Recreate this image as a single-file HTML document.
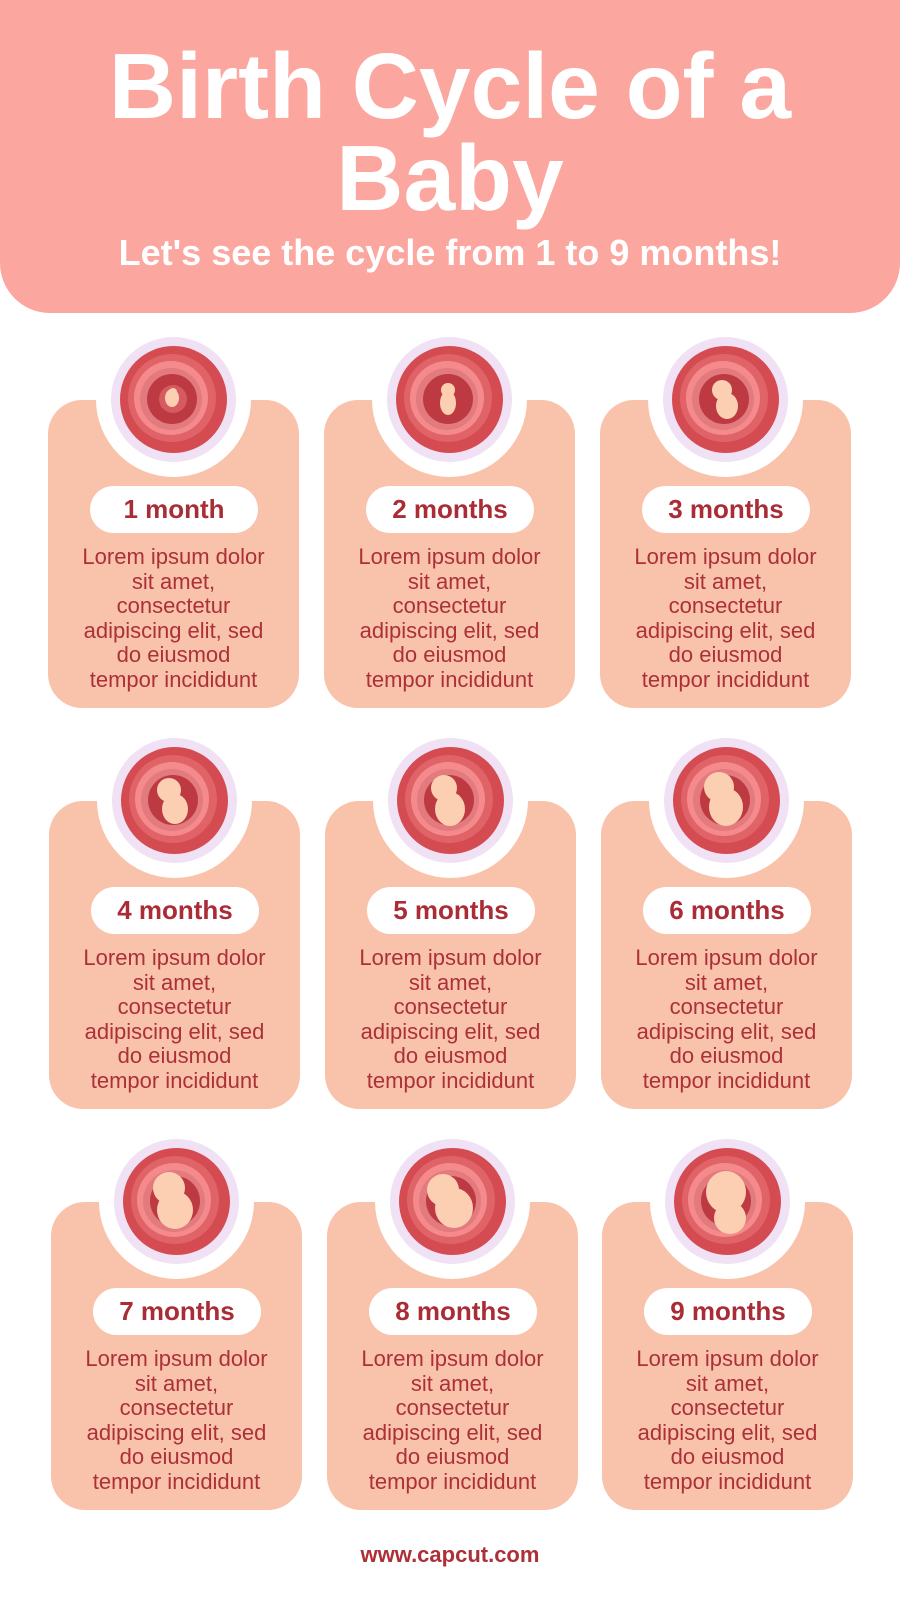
<!DOCTYPE html>
<html><head><meta charset="utf-8"><style>
*{margin:0;padding:0;box-sizing:border-box}
body{width:900px;height:1600px;background:#fff;position:relative;overflow:hidden;font-family:"Liberation Sans",sans-serif}
.hdr{position:absolute;left:0;top:0;width:900px;height:313px;background:#fba69f;border-radius:0 0 50px 50px}
.t{position:absolute;left:0;width:900px;text-align:center;color:#fff;font-weight:bold;font-size:93px;line-height:93px;letter-spacing:0px}
.sub{position:absolute;left:0;width:900px;text-align:center;color:#fff;font-weight:bold;font-size:36px;line-height:36px;top:235px}
.card{position:absolute;width:251px;height:308px;background:#f9c3ab;border-radius:34px}
.cut{position:absolute;left:48px;top:-78px;width:155px;height:155px;border-radius:50%;background:#fff}
.lav{position:absolute;left:63px;top:-63px;width:125px;height:125px;border-radius:50%;background:#f0e1f5}
.ill{position:absolute;left:72px;top:-54px;width:107px;height:107px}
.pill{position:absolute;left:42px;top:86px;width:168px;height:47px;border-radius:24px;background:#fff;color:#a92c36;font-weight:bold;font-size:26px;line-height:47px;text-align:center}
.txt{position:absolute;left:-10px;top:145px;width:271px;text-align:center;color:#ac3038;font-size:22px;line-height:24.5px}
.ft{position:absolute;left:0;top:1542px;width:900px;text-align:center;color:#ac3038;font-weight:bold;font-size:22px}
</style></head><body>
<div class="hdr"></div>
<div class="t" style="top:40px">Birth Cycle of a</div>
<div class="t" style="top:132px">Baby</div>
<div class="sub">Let's see the cycle from 1 to 9 months!</div>

<svg width="0" height="0" style="position:absolute">
<defs>
<g id="w">
<circle cx="53.5" cy="53.5" r="53.5" fill="#d44b51"/>
<circle cx="52" cy="52" r="44" fill="#e06467"/>
<circle cx="51" cy="52" r="37" fill="#f58a8c"/>
<circle cx="51" cy="53" r="31" fill="#e37a7d"/>
<circle cx="52" cy="53" r="25" fill="#bd3a42"/>
</g>
</defs>
</svg>

<!-- Row 1 -->
<div class="card" style="left:48px;top:400px"><div class="cut"></div><div class="lav"></div>
<svg class="ill" viewBox="0 0 107 107"><use href="#w"/><circle cx="53" cy="53" r="14" fill="#d65a5f"/><ellipse cx="52" cy="52" rx="7" ry="9" fill="#fccfb2"/><circle cx="53" cy="46" r="4" fill="#fccfb2"/></svg>
<div class="pill">1 month</div><div class="txt">Lorem ipsum dolor<br>sit amet,<br>consectetur<br>adipiscing elit, sed<br>do eiusmod<br>tempor incididunt</div></div>
<div class="card" style="left:324px;top:400px"><div class="cut"></div><div class="lav"></div>
<svg class="ill" viewBox="0 0 107 107"><use href="#w"/><ellipse cx="52" cy="57" rx="8" ry="12" fill="#fccfb2"/><circle cx="52" cy="44" r="7" fill="#fccfb2"/></svg>
<div class="pill">2 months</div><div class="txt">Lorem ipsum dolor<br>sit amet,<br>consectetur<br>adipiscing elit, sed<br>do eiusmod<br>tempor incididunt</div></div>
<div class="card" style="left:600px;top:400px"><div class="cut"></div><div class="lav"></div>
<svg class="ill" viewBox="0 0 107 107"><use href="#w"/><ellipse cx="55" cy="60" rx="11" ry="13" fill="#fccfb2"/><circle cx="50" cy="44" r="10" fill="#fccfb2"/></svg>
<div class="pill">3 months</div><div class="txt">Lorem ipsum dolor<br>sit amet,<br>consectetur<br>adipiscing elit, sed<br>do eiusmod<br>tempor incididunt</div></div>

<!-- Row 2 -->
<div class="card" style="left:49px;top:801px"><div class="cut"></div><div class="lav"></div>
<svg class="ill" viewBox="0 0 107 107"><use href="#w"/><ellipse cx="54" cy="62" rx="13" ry="15" fill="#fccfb2"/><circle cx="48" cy="43" r="12" fill="#fccfb2"/></svg>
<div class="pill">4 months</div><div class="txt">Lorem ipsum dolor<br>sit amet,<br>consectetur<br>adipiscing elit, sed<br>do eiusmod<br>tempor incididunt</div></div>
<div class="card" style="left:325px;top:801px"><div class="cut"></div><div class="lav"></div>
<svg class="ill" viewBox="0 0 107 107"><use href="#w"/><ellipse cx="53" cy="62" rx="15" ry="17" fill="#fccfb2"/><circle cx="47" cy="41" r="13" fill="#fccfb2"/></svg>
<div class="pill">5 months</div><div class="txt">Lorem ipsum dolor<br>sit amet,<br>consectetur<br>adipiscing elit, sed<br>do eiusmod<br>tempor incididunt</div></div>
<div class="card" style="left:601px;top:801px"><div class="cut"></div><div class="lav"></div>
<svg class="ill" viewBox="0 0 107 107"><use href="#w"/><ellipse cx="53" cy="60" rx="17" ry="19" fill="#fccfb2"/><circle cx="46" cy="40" r="15" fill="#fccfb2"/></svg>
<div class="pill">6 months</div><div class="txt">Lorem ipsum dolor<br>sit amet,<br>consectetur<br>adipiscing elit, sed<br>do eiusmod<br>tempor incididunt</div></div>

<!-- Row 3 -->
<div class="card" style="left:51px;top:1202px"><div class="cut"></div><div class="lav"></div>
<svg class="ill" viewBox="0 0 107 107"><use href="#w"/><ellipse cx="52" cy="62" rx="18" ry="19" fill="#fccfb2"/><circle cx="46" cy="40" r="16" fill="#fccfb2"/></svg>
<div class="pill">7 months</div><div class="txt">Lorem ipsum dolor<br>sit amet,<br>consectetur<br>adipiscing elit, sed<br>do eiusmod<br>tempor incididunt</div></div>
<div class="card" style="left:327px;top:1202px"><div class="cut"></div><div class="lav"></div>
<svg class="ill" viewBox="0 0 107 107"><use href="#w"/><ellipse cx="55" cy="60" rx="19" ry="20" fill="#fccfb2"/><circle cx="44" cy="42" r="16" fill="#fccfb2"/></svg>
<div class="pill">8 months</div><div class="txt">Lorem ipsum dolor<br>sit amet,<br>consectetur<br>adipiscing elit, sed<br>do eiusmod<br>tempor incididunt</div></div>
<div class="card" style="left:602px;top:1202px"><div class="cut"></div><div class="lav"></div>
<svg class="ill" viewBox="0 0 107 107"><use href="#w"/><ellipse cx="52" cy="44" rx="20" ry="21" fill="#fccfb2"/><circle cx="56" cy="70" r="16" fill="#fccfb2"/></svg>
<div class="pill">9 months</div><div class="txt">Lorem ipsum dolor<br>sit amet,<br>consectetur<br>adipiscing elit, sed<br>do eiusmod<br>tempor incididunt</div></div>

<div class="ft">www.capcut.com</div>
</body></html>
